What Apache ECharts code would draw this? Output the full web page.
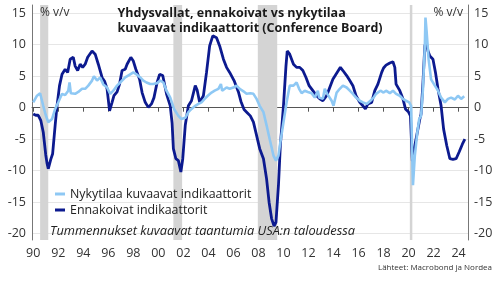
<!DOCTYPE html>
<html>
<head>
<meta charset="utf-8">
<script src="https://cdn.jsdelivr.net/npm/echarts@6/dist/echarts.min.js"></script>
<style>
  html, body { margin: 0; padding: 0; background: #fff; }
  #chart { width: 500px; height: 281px; }
</style>
</head>
<body>
<div id="chart"></div>
<script>
// US Conference Board indicators, % y/y
const leading = [
  [1990.0,-1.0],[1990.2,-1.2],[1990.4,-1.2],[1990.6,-2.0],[1990.8,-3.9],[1991.0,-7.5],[1991.1,-8.8],[1991.2,-9.7],
  [1991.4,-8.2],[1991.55,-7.3],[1991.75,-2.8],[1991.9,0.3],[1992.1,3.5],[1992.3,5.3],[1992.55,6.1],[1992.75,5.6],
  [1992.95,7.7],[1993.2,8.0],[1993.35,6.6],[1993.55,5.9],[1993.75,6.9],[1993.95,6.4],[1994.15,6.9],[1994.35,8.0],
  [1994.7,9.0],[1994.95,8.5],[1995.2,6.9],[1995.5,4.8],[1995.7,4.2],[1995.9,3.0],[1996.1,-0.5],[1996.3,0.85],
  [1996.45,1.9],[1996.7,2.5],[1996.9,3.75],[1997.1,5.9],[1997.35,6.1],[1997.5,6.9],[1997.8,8.0],[1998.0,7.4],
  [1998.2,6.1],[1998.5,4.5],[1998.7,2.4],[1998.95,0.85],[1999.2,0.05],[1999.45,0.6],[1999.65,1.6],[1999.9,4.0],
  [2000.1,5.3],[2000.35,5.1],[2000.65,2.2],[2000.95,0.3],[2001.1,-2.5],[2001.2,-6.5],[2001.4,-8.1],[2001.6,-8.4],
  [2001.8,-10.2],[2001.95,-8.1],[2002.15,-2.8],[2002.4,0.3],[2002.65,1.1],[2002.95,3.5],[2003.1,2.8],[2003.3,0.85],
  [2003.6,1.9],[2003.85,5.6],[2004.1,9.8],[2004.35,11.4],[2004.65,11.1],[2004.9,9.8],[2005.2,7.7],[2005.45,6.4],
  [2005.7,5.6],[2006.05,4.3],[2006.4,2.5],[2006.6,1.0],[2006.85,-0.3],[2007.1,-0.8],[2007.35,-1.3],[2007.6,-2.3],
  [2007.85,-4.4],[2008.1,-6.5],[2008.4,-8.1],[2008.65,-11.3],[2008.85,-15.0],[2009.05,-17.6],[2009.25,-18.8],[2009.4,-18.2],
  [2009.6,-12.3],[2009.75,-6.0],[2010.0,0.3],[2010.2,6.6],[2010.3,9.0],[2010.5,8.5],[2010.8,6.9],[2011.05,6.4],
  [2011.3,6.4],[2011.55,5.9],[2011.8,4.8],[2012.05,3.5],[2012.35,2.7],[2012.65,1.9],[2012.9,1.4],[2013.15,1.1],
  [2013.45,1.9],[2013.7,3.2],[2013.95,4.5],[2014.2,5.3],[2014.55,6.4],[2014.75,5.9],[2015.05,5.1],[2015.3,4.3],
  [2015.55,3.5],[2015.8,1.9],[2016.1,0.85],[2016.35,0.3],[2016.55,-0.2],[2016.75,0.6],[2017.05,0.85],[2017.3,2.7],
  [2017.55,3.75],[2017.85,5.6],[2018.0,6.3],[2018.2,6.75],[2018.5,7.1],[2018.75,7.3],[2018.9,6.4],[2019.0,3.75],
  [2019.3,2.7],[2019.55,1.4],[2019.75,-0.2],[2020.0,-0.7],[2020.15,-1.3],[2020.3,-8.5],[2020.5,-6.0],[2020.7,-3.9],
  [2020.9,-1.8],[2021.0,-1.0],[2021.15,4.0],[2021.3,9.8],[2021.4,10.5],[2021.55,9.0],[2021.7,8.2],[2021.95,7.7],
  [2022.15,5.6],[2022.35,3.0],[2022.6,0.3],[2022.8,-3.4],[2023.05,-6.0],[2023.3,-8.1],[2023.55,-8.2],[2023.8,-8.1],
  [2024.05,-7.0],[2024.3,-5.8],[2024.5,-5.0]
];
const coincident = [
  [1990.0,0.85],[1990.3,1.9],[1990.55,2.3],[1990.8,0.3],[1991.0,-1.2],[1991.2,-2.3],[1991.5,-1.8],[1991.75,-0.2],
  [1992.0,0.85],[1992.3,2.2],[1992.55,2.0],[1992.8,2.7],[1992.9,4.0],[1993.0,2.3],[1993.35,2.2],[1993.6,2.5],
  [1993.9,3.0],[1994.15,3.0],[1994.4,3.5],[1994.7,4.3],[1994.85,5.0],[1995.1,4.3],[1995.35,4.8],[1995.6,3.7],
  [1995.9,3.2],[1996.15,2.2],[1996.4,2.7],[1996.7,3.5],[1996.95,4.0],[1997.35,4.8],[1997.75,5.3],[1998.0,5.6],
  [1998.25,5.3],[1998.55,4.8],[1998.8,4.3],[1999.05,4.0],[1999.35,3.75],[1999.6,3.75],[1999.9,3.9],[2000.15,4.3],
  [2000.4,4.0],[2000.65,2.7],[2000.95,1.6],[2001.25,-0.2],[2001.6,-1.3],[2001.85,-1.8],[2002.15,-1.6],[2002.4,-0.7],
  [2002.65,-0.2],[2002.95,0.3],[2003.2,0.6],[2003.45,0.85],[2003.7,1.4],[2003.95,1.9],[2004.25,2.4],[2004.5,2.7],
  [2004.8,3.0],[2005.0,3.75],[2005.1,2.7],[2005.45,3.2],[2005.7,3.0],[2006.0,3.2],[2006.25,3.5],[2006.5,3.0],
  [2006.8,2.6],[2007.05,2.2],[2007.35,2.3],[2007.6,2.2],[2007.85,1.4],[2008.1,0.3],[2008.4,-0.7],[2008.65,-2.8],
  [2008.9,-5.0],[2009.2,-7.6],[2009.4,-8.4],[2009.6,-7.6],[2009.75,-5.5],[2010.0,-2.3],[2010.25,0.85],[2010.5,3.5],
  [2010.8,3.5],[2011.05,4.0],[2011.25,3.0],[2011.45,2.3],[2011.7,2.7],[2011.95,2.5],[2012.25,2.3],[2012.5,1.6],
  [2012.75,2.7],[2012.85,1.6],[2013.15,1.4],[2013.3,3.0],[2013.5,2.2],[2013.85,1.1],[2014.0,0.3],[2014.25,2.4],
  [2014.5,3.0],[2014.75,3.5],[2015.05,3.2],[2015.3,2.7],[2015.55,2.2],[2015.8,1.6],[2016.1,1.1],[2016.35,0.85],
  [2016.65,0.6],[2016.95,1.1],[2017.2,1.6],[2017.4,2.2],[2017.75,2.7],[2018.0,2.4],[2018.2,2.7],[2018.5,2.3],
  [2018.75,2.7],[2019.0,2.2],[2019.3,1.9],[2019.55,1.4],[2019.8,1.1],[2020.05,0.85],[2020.2,0.3],[2020.35,-12.3],
  [2020.5,-7.6],[2020.7,-3.9],[2020.85,-1.8],[2021.0,-1.3],[2021.15,3.0],[2021.3,9.8],[2021.35,14.3],[2021.45,11.9],
  [2021.6,7.7],[2021.8,4.5],[2022.1,3.5],[2022.35,2.7],[2022.6,1.6],[2022.9,0.85],[2023.15,1.4],[2023.4,1.6],
  [2023.7,1.3],[2023.95,1.9],[2024.2,1.4],[2024.45,1.8]
];
const recessions = [[1990.55, 1991.2], [2001.2, 2001.9], [2007.95, 2009.5], [2020.1, 2020.3]];
const yearTicks = [1990,1992,1994,1996,1998,2000,2002,2004,2006,2008,2010,2012,2014,2016,2018,2020,2022,2024];
const valueTicks = [-20, -15, -10, -5, 0, 5, 10, 15];

const names = ['Nykytilaa kuvaavat indikaattorit', 'Ennakoivat indikaattorit'];
const FONT = '"Open Sans", sans-serif';

const chart = echarts.init(document.getElementById('chart'));

const yAxisBase = {
    type: 'value',
    min: -21,
    max: 16.3,
    axisTick: {show: false, customValues: valueTicks},
    axisLabel: {customValues: valueTicks, color: '#333', fontSize: 12.5, fontFamily: FONT, margin: 6},
    axisLine: {show: true, lineStyle: {color: '#777', width: 1}}
};

const option = {
    animation: false,
    textStyle: {fontFamily: FONT},
    grid: {left: 32, right: 32, top: 5, bottom: 41},
    legend: {
        data: names,
        orient: 'vertical',
        left: 50,
        top: 183,
        itemWidth: 10,
        itemHeight: 3,
        itemGap: 4,
        icon: 'rect',
        textStyle: {color: '#222', fontSize: 12.4, fontFamily: FONT}
    },
    xAxis: {
        type: 'value',
        min: 1989.9,
        max: 2024.75,
        axisLine: {lineStyle: {color: '#555'}},
        axisTick: {customValues: yearTicks, length: 4, lineStyle: {color: '#555'}},
        axisLabel: {
            customValues: yearTicks,
            color: '#333',
            fontSize: 12.5,
            fontFamily: FONT,
            margin: 7,
            formatter: v => String(v).slice(2)
        },
        splitLine: {show: false}
    },
    yAxis: [
        Object.assign({}, yAxisBase, {
            position: 'left',
            splitLine: {show: true, lineStyle: {color: '#e6e6e6', width: 1}}
        }),
        Object.assign({}, yAxisBase, {
            position: 'right',
            splitLine: {show: false}
        })
    ],
    series: [
        {
            name: 'recessions',
            type: 'line',
            data: [],
            z: 1,
            markArea: {
                silent: true,
                itemStyle: {color: '#d4d4d4'},
                data: recessions.map(r => [{xAxis: r[0]}, {xAxis: r[1]}])
            }
        },
        {
            name: names[1],
            type: 'line',
            data: leading,
            showSymbol: false,
            z: 3,
            lineStyle: {color: '#0c1a8f', width: 2.8},
            itemStyle: {color: '#0c1a8f'}
        },
        {
            name: names[0],
            type: 'line',
            data: coincident,
            showSymbol: false,
            z: 4,
            lineStyle: {color: '#8ec8f4', width: 2.6},
            itemStyle: {color: '#8ec8f4'}
        }
    ],
    graphic: [
        {
            type: 'text', left: 'center', top: 6, z: 10,
            style: {
                text: 'Yhdysvallat, ennakoivat vs nykytilaa\nkuvaavat indikaattorit (Conference Board)',
                font: 'bold 12.5px ' + FONT, fill: '#1a1a1a', align: 'center', lineHeight: 15
            }
        },
        {
            type: 'text', left: 40, top: 7, z: 10,
            style: {text: '% v/v', font: '12px ' + FONT, fill: '#333'}
        },
        {
            type: 'text', right: 37, top: 7, z: 10,
            style: {text: '% v/v', font: '12px ' + FONT, fill: '#333'}
        },
        {
            type: 'text', left: 50, top: 225, z: 10,
            style: {text: 'Tummennukset kuvaavat taantumia USA:n taloudessa', font: 'italic 12.8px ' + FONT, fill: '#222'}
        },
        {
            type: 'text', right: 8, top: 264, z: 10,
            style: {text: 'Lähteet: Macrobond ja Nordea', font: '8px ' + FONT, fill: '#333'}
        }
    ]
};

chart.setOption(option);
</script>
</body>
</html>
